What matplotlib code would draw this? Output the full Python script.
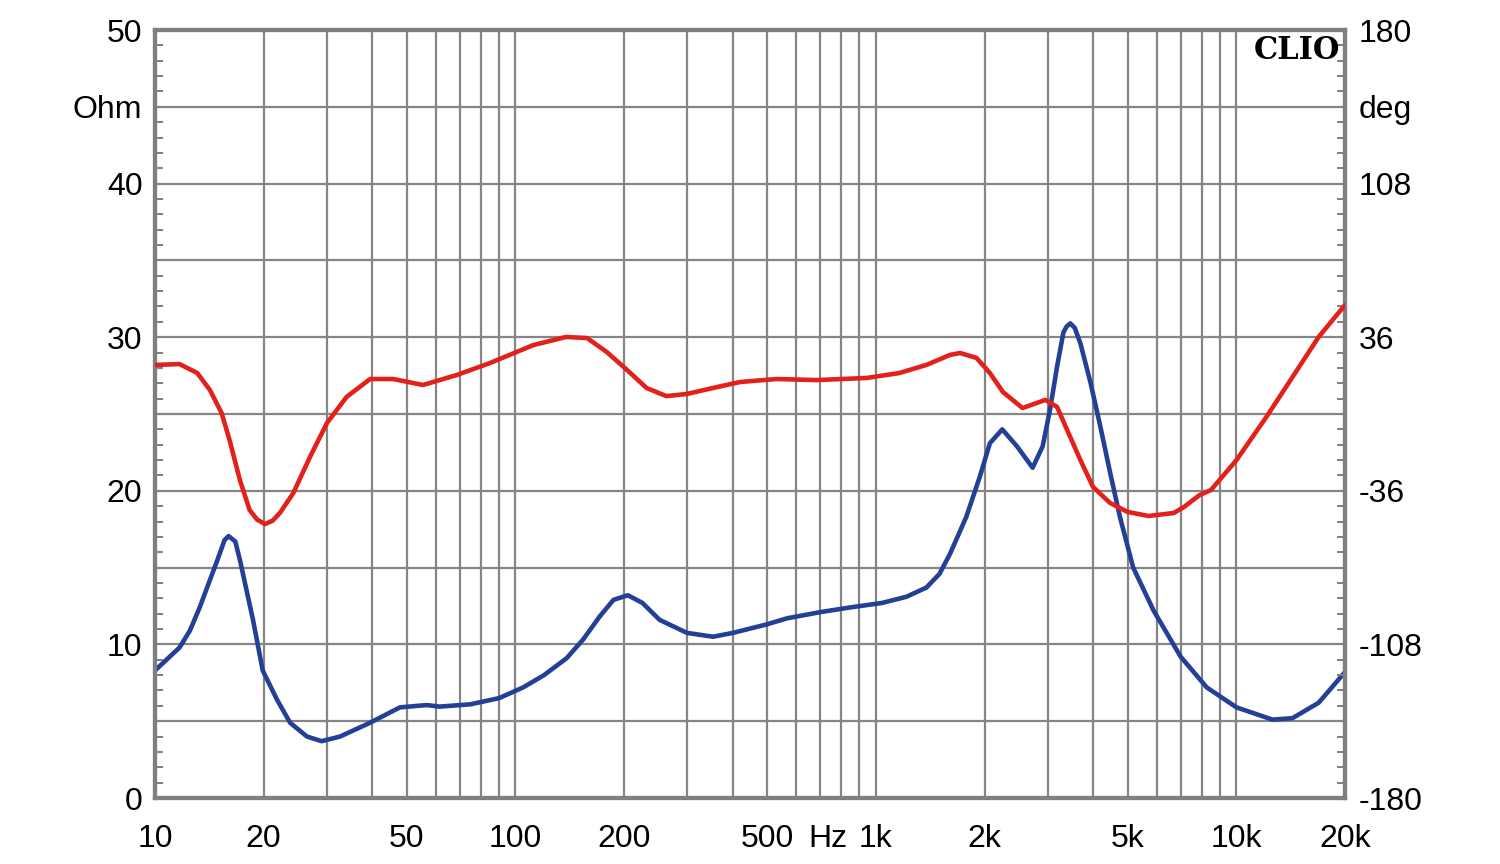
import matplotlib
matplotlib.use("Agg")
import matplotlib.pyplot as plt
from matplotlib.ticker import FixedLocator, NullFormatter, LogLocator

# ---- data ----
imp_freq = [10, 11.7, 12.5, 13.3, 14.9, 15.6, 16.0, 16.7, 17.2, 18.7, 19.9, 21.8, 23.7, 26.4, 29.0,
            32.6, 39.5, 47.8, 56.7, 61.6, 75, 90, 105, 120, 138.6, 153.8, 171, 187, 205,
            225, 251, 299, 353, 401, 497, 567, 700, 844, 1040, 1214, 1380, 1501, 1605,
            1780, 1940, 2070, 2240, 2460, 2720, 2900, 3040, 3180, 3310, 3380, 3460, 3560,
            3690, 3940, 4190, 4460, 4750, 5170, 5890, 7000, 8270, 10000, 12600, 14300,
            16900, 20000]
imp_ohm = [8.3, 9.8, 10.9, 12.4, 15.5, 16.8, 17.05, 16.7, 15.5, 11.6, 8.3, 6.4, 4.9, 4.0, 3.7,
           4.0, 4.9, 5.9, 6.05, 5.95, 6.1, 6.5, 7.2, 8.0, 9.1, 10.3, 11.8, 12.9, 13.2,
           12.7, 11.6, 10.75, 10.5, 10.75, 11.3, 11.7, 12.1, 12.4, 12.7, 13.1, 13.7, 14.6,
           15.9, 18.3, 20.9, 23.1, 24.0, 22.9, 21.5, 22.9, 25.3, 28.1, 30.3, 30.7, 30.9,
           30.6, 29.6, 27.0, 24.2, 21.2, 18.3, 15.0, 12.2, 9.2, 7.2, 5.9, 5.1, 5.2, 6.2, 8.2]

phase_freq = [10, 11.7, 13.1, 14.2, 15.3, 16.1, 17.2, 18.3, 19.2, 20.2, 21.2, 22.2, 24.2,
              26.9, 30.0, 34.0, 39.5, 45.8, 55.4, 68.8, 85, 112, 138, 158, 179, 204, 231,
              262, 299, 353, 420, 530, 685, 943, 1160, 1380, 1605, 1710, 1900, 2070, 2250,
              2550, 2950, 3180, 3390, 3690, 4000, 4460, 4990, 5700, 6700, 7150, 7900, 8500,
              10000, 12100, 14300, 16900, 20000]
phase_deg = [23.0, 23.4, 19.2, 11.25, 0.5, -12.2, -31.0, -45.0, -49.5, -51.6, -50.0, -46.4,
             -37.0, -20.2, -4.2, 8.0, 16.4, 16.4, 13.6, 18.3, 23.9, 32.3, 36.1, 35.6, 29.1,
             20.6, 12.2, 8.4, 9.4, 12.2, 15.0, 16.4, 15.9, 16.9, 19.2, 23.0, 27.7, 28.6,
             26.3, 19.2, 10.3, 2.8, 6.6, 3.3, -7.5, -21.6, -34.2, -41.7, -45.9, -47.8,
             -46.4, -43.6, -38.0, -35.6, -21.6, -1.4, 17.3, 36.1, 51.1]

x_ticks = [10, 20, 50, 100, 200, 500, 1000, 2000, 5000, 10000, 20000]
x_labels = ["10", "20", "50", "100", "200", "500", "1k", "2k", "5k", "10k", "20k"]
left_ticks = [0, 10, 20, 30, 40, 45, 50]
left_labels = ["0", "10", "20", "30", "40", "Ohm", "50"]
right_ticks = [-180, -108, -36, 36, 108, 144, 180]
right_labels = ["-180", "-108", "-36", "36", "108", "deg", "180"]

plt.rcParams['font.family'] = ['Liberation Sans', 'DejaVu Sans']

GRID = "#858585"
FRAME = "#7f7f7f"
BLUE = "#243f96"
RED = "#e3211c"
FS = 23

fig = plt.figure(figsize=(15, 8.64), dpi=100)
ax = fig.add_axes([155/1500, 1-798/864, 1190/1500, 768/864])
ax2 = ax.twinx()

ax.set_xscale("log")
ax.set_xlim(10, 20000)
ax.set_ylim(0, 50)
ax2.set_ylim(-180, 180)

# grid
ax.xaxis.set_major_locator(FixedLocator(x_ticks))
ax.xaxis.set_minor_locator(LogLocator(base=10, subs=range(1, 10), numticks=50))
ax.xaxis.set_minor_formatter(NullFormatter())
ax.set_xticklabels(x_labels)
ax.grid(True, which="both", axis="x", color=GRID, linewidth=1.6)
ax.yaxis.set_major_locator(FixedLocator(list(range(0, 51, 5))))
ax.grid(True, which="major", axis="y", color=GRID, linewidth=1.6)
ax.set_axisbelow(True)

# y ticks (labels) - left
ax.set_yticks(list(range(0, 51, 5)))
lab = {v: "" for v in range(0, 51, 5)}
for t, l in zip(left_ticks, left_labels):
    lab[t] = l
ax.set_yticklabels([lab[v] for v in range(0, 51, 5)])
ax.yaxis.set_minor_locator(FixedLocator([v for v in range(0, 51) if v % 5 != 0]))
ax.tick_params(axis="y", which="major", length=0, pad=9, labelsize=FS)
ax.tick_params(axis="y", which="minor", direction="in", length=6, width=1.4, color=FRAME)
ax.tick_params(axis="x", which="both", length=0, pad=19, labelsize=FS)

# right axis
ax2.set_yticks(right_ticks)
ax2.set_yticklabels(right_labels)
ax2.yaxis.set_minor_locator(FixedLocator([-180 + 7.2 * i for i in range(51) if i % 5 != 0]))
ax2.tick_params(axis="y", which="major", length=0, pad=10, labelsize=FS)
ax2.tick_params(axis="y", which="minor", direction="in", length=6, width=1.4, color=FRAME)

for a in (ax, ax2):
    for s in a.spines.values():
        s.set_color(FRAME)
        s.set_linewidth(3)

ax.plot(imp_freq, imp_ohm, color=BLUE, linewidth=3.3, solid_capstyle="round",
        solid_joinstyle="round", zorder=3)
ax2.plot(phase_freq, phase_deg, color=RED, linewidth=3.3, solid_capstyle="round",
         solid_joinstyle="round", zorder=3)

ax.text(735, -19 * 100 / 72 / 768, "Hz", transform=ax.get_xaxis_transform(),
        ha="center", va="top", fontsize=FS)
ax2.text(0.996, 0.993, "CLIO", transform=ax2.transAxes, ha="right", va="top",
         fontsize=22, fontweight="bold", family="DejaVu Serif")

fig.savefig("out.png", dpi=100, facecolor="white")
